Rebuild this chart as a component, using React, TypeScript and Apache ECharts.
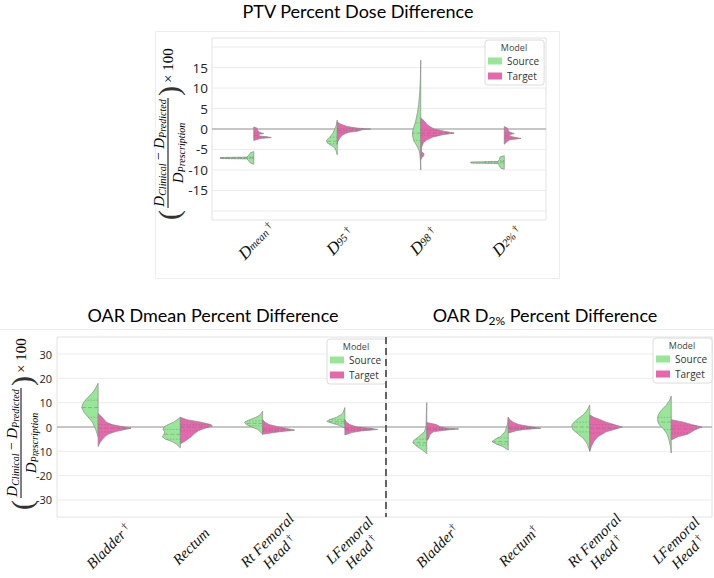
import React, { useEffect, useRef } from "react";
import * as echarts from "echarts";

// ---------- categories & ticks ----------
const ptvCategories = ["D_mean †", "D_95 †", "D_98 †", "D_2% †"];
const oarDmeanCategories = ["Bladder †", "Rectum", "Rt Femoral\nHead †", "LFemoral\nHead †"];
const oarD2Categories = ["Bladder†", "Rectum†", "Rt Femoral\nHead †", "LFemoral\nHead †"];
const modelNames = ["Source", "Target"];

const ptvTickLabels = [-15, -10, -5, 0, 5, 10, 15];
const ptvGridValues = [-20, -15, -10, -5, 0, 5, 10, 15, 20];
const oarTickLabels = [-30, -20, -10, 0, 10, 20, 30];
const oarGridValues = [-30, -20, -10, 0, 10, 20, 30];

// ---------- violin half profiles: [value, half-width as fraction of category band] ----------
const ptvSource = [
  [[-5.5, 0], [-5.8, 0.04], [-6.4, 0.06], [-6.85, 0.08], [-6.95, 0.4], [-7.2, 0.4], [-7.3, 0.08], [-7.8, 0.06], [-8.3, 0.04], [-8.6, 0]],
  [[2.2, 0], [1, 0.01], [0, 0.03], [-1, 0.05], [-2, 0.09], [-2.8, 0.13], [-3.4, 0.12], [-4, 0.07], [-4.6, 0.03], [-5.5, 0.01], [-6.3, 0]],
  [[16.8, 0], [12, 0.005], [9, 0.012], [6, 0.025], [4, 0.04], [2, 0.06], [0, 0.09], [-1, 0.1], [-2, 0.095], [-3, 0.08], [-4, 0.05], [-5, 0.025], [-6, 0.012], [-7.5, 0.005], [-10, 0]],
  [[-6.5, 0], [-6.8, 0.05], [-7.5, 0.06], [-7.95, 0.08], [-8.05, 0.4], [-8.3, 0.4], [-8.4, 0.07], [-9, 0.06], [-9.6, 0.04], [-9.8, 0]],
];
const ptvTarget = [
  [[0.5, 0], [0.2, 0.04], [-0.5, 0.05], [-0.9, 0.08], [-1.1, 0.12], [-1.3, 0.06], [-1.7, 0.07], [-1.9, 0.16], [-2.1, 0.21], [-2.3, 0.08], [-2.6, 0.03], [-2.8, 0]],
  [[1.7, 0], [1.2, 0.04], [0.6, 0.12], [0.2, 0.25], [0, 0.4], [-0.2, 0.3], [-0.5, 0.25], [-0.8, 0.14], [-1.1, 0.1], [-1.5, 0.06], [-2.2, 0.03], [-3, 0.01], [-3.7, 0]],
  [[2.7, 0], [2, 0.04], [1, 0.08], [0, 0.16], [-0.5, 0.27], [-1, 0.4], [-1.4, 0.26], [-2, 0.14], [-2.7, 0.07], [-3.4, 0.03], [-4.5, 0.01], [-5.6, 0.01], [-6, 0.04], [-6.6, 0.035], [-7, 0.01], [-7.5, 0]],
  [[0.6, 0], [0.2, 0.04], [-0.5, 0.05], [-0.9, 0.08], [-1.1, 0.12], [-1.4, 0.06], [-1.8, 0.08], [-2.1, 0.14], [-2.3, 0.2], [-2.6, 0.07], [-3, 0.04], [-3.7, 0]],
];
const oarDmeanSource = [
  [[18, 0], [16, 0.03], [14, 0.07], [12, 0.13], [10, 0.18], [8, 0.2], [6, 0.17], [4, 0.12], [2, 0.07], [0, 0.04], [-2, 0.02], [-4, 0]],
  [[4, 0], [3, 0.04], [2, 0.08], [1, 0.15], [0, 0.2], [-1, 0.21], [-2, 0.19], [-3, 0.2], [-4, 0.22], [-5, 0.18], [-6, 0.1], [-7, 0.05], [-8.6, 0]],
  [[6.5, 0], [5, 0.03], [4, 0.08], [3, 0.16], [2, 0.22], [1, 0.2], [0, 0.13], [-1, 0.06], [-2, 0.03], [-3, 0]],
  [[8, 0], [6, 0.02], [5, 0.05], [4, 0.1], [3, 0.19], [2.3, 0.22], [1.5, 0.15], [0.5, 0.05], [-0.5, 0]],
];
const oarDmeanTarget = [
  [[5.5, 0], [4, 0.05], [2, 0.1], [1, 0.17], [0, 0.32], [-0.5, 0.4], [-1, 0.33], [-2, 0.2], [-3, 0.12], [-4, 0.08], [-6, 0.03], [-8, 0]],
  [[4, 0], [3, 0.08], [2, 0.25], [1, 0.37], [0.4, 0.39], [-0.5, 0.3], [-1.5, 0.22], [-3, 0.16], [-4, 0.13], [-5.5, 0.07], [-7, 0]],
  [[3, 0], [2, 0.03], [1, 0.08], [0, 0.2], [-0.8, 0.32], [-1.3, 0.39], [-2, 0.2], [-2.6, 0.08], [-3, 0]],
  [[3, 0], [2, 0.02], [1, 0.06], [0, 0.15], [-0.5, 0.3], [-1, 0.4], [-1.6, 0.2], [-2.3, 0.08], [-3.3, 0]],
];
const oarD2Source = [
  [[10, 0], [5, 0.005], [0, 0.01], [-2, 0.03], [-4, 0.1], [-5.5, 0.16], [-6.5, 0.17], [-8, 0.12], [-9.5, 0.05], [-11, 0]],
  [[4, 0], [2, 0.005], [0, 0.02], [-2, 0.04], [-4, 0.1], [-5, 0.16], [-6, 0.2], [-7, 0.15], [-8, 0.07], [-9.5, 0]],
  [[9, 0], [7, 0.03], [5, 0.08], [3, 0.16], [1, 0.22], [-1, 0.21], [-3, 0.14], [-5, 0.07], [-7, 0.03], [-10, 0]],
  [[12.7, 0], [11, 0.02], [9, 0.06], [7, 0.12], [5, 0.16], [3, 0.17], [1, 0.15], [-1, 0.09], [-3, 0.05], [-5, 0.03], [-8, 0.01], [-10.7, 0]],
];
const oarD2Target = [
  [[1.8, 0], [1, 0.12], [0, 0.17], [-0.5, 0.25], [-0.8, 0.39], [-1.3, 0.22], [-2, 0.08], [-3, 0.04], [-5, 0.02], [-5.5, 0]],
  [[4, 0], [3, 0.02], [2, 0.06], [1, 0.13], [0, 0.3], [-0.5, 0.4], [-1, 0.2], [-1.5, 0.1], [-2.5, 0]],
  [[5, 0], [4, 0.05], [3, 0.13], [2, 0.2], [1, 0.3], [0, 0.4], [-1, 0.3], [-2, 0.2], [-3, 0.15], [-4, 0.1], [-6, 0.05], [-8, 0.02], [-10, 0]],
  [[3, 0], [2, 0.15], [1, 0.25], [0, 0.38], [-1, 0.3], [-2, 0.25], [-3, 0.2], [-4, 0.08], [-5.3, 0]],
];

// ---------- quartiles [q1, median, q3] per half ----------
const ptvSourceQuartiles = [[-7.2, -7.0, -6.8], [-3.6, -3.0, -2.0], [-2.8, -1.0, 1.5], [-8.3, -8.0, -7.7]];
const ptvTargetQuartiles = [[-2.0, -1.6, -1.0], [-0.8, -0.3, 0.1], [-1.6, -1.0, -0.3], [-2.2, -1.7, -1.0]];
const oarDmeanSourceQuartiles = [[4, 8, 11], [-5, -3, -1], [0.5, 1.5, 2.5], [1.5, 2.2, 3]];
const oarDmeanTargetQuartiles = [[-2, -0.5, 1], [-1.5, 0, 1], [-1.8, -1.2, -0.5], [-1.3, -0.8, -0.2]];
const oarD2SourceQuartiles = [[-7.5, -6.5, -5], [-7, -6, -4.5], [-2, 0, 2], [-1, 2, 4]];
const oarD2TargetQuartiles = [[-1.2, -0.8, -0.2], [-0.8, -0.4, 0], [-2.5, -0.5, 1], [-2.5, -0.8, 0.5]];

const SOURCE_COLOR = "#98E698";
const TARGET_COLOR = "#E667AB";
const serif = '"Liberation Serif", "DejaVu Serif", serif';
const sans = '"Open Sans", "Noto Sans", sans-serif';

function widthAt(prof: number[][], q: number): number {
  for (let k = 0; k < prof.length - 1; k++) {
    const [v1, w1] = prof[k];
    const [v2, w2] = prof[k + 1];
    if ((q <= v1 && q >= v2) || (q >= v1 && q <= v2)) {
      if (v1 === v2) return Math.max(w1, w2);
      return w1 + ((q - v1) / (v2 - v1)) * (w2 - w1);
    }
  }
  return 0;
}

function violinSeries(name: string, color: string, gi: number, profiles: number[][][], quartiles: number[][], side: number) {
  return {
    type: "custom",
    name,
    xAxisIndex: gi,
    yAxisIndex: gi,
    silent: true,
    itemStyle: { color },
    data: profiles.map((_, i) => [i, 0]),
    renderItem: (params: any, api: any) => {
      const i = api.value(0);
      const prof = profiles[i];
      const band = api.size([1, 0])[0];
      const cx = api.coord([i, 0])[0];
      const pts = prof.map(([v, w]) => [cx + side * w * band, api.coord([i, v])[1]]);
      const yTop = pts[0][1];
      const yBot = pts[pts.length - 1][1];
      const poly = [[cx, yTop], ...pts, [cx, yBot]];
      const children: any[] = [
        { type: "polygon", shape: { points: poly }, style: { fill: color, stroke: "#8a8a8a", lineWidth: 0.7 } },
      ];
      quartiles[i].forEach((q, k) => {
        const w = widthAt(prof, q);
        const y = api.coord([i, q])[1];
        children.push({
          type: "line",
          shape: { x1: cx, y1: y, x2: cx + side * w * band, y2: y },
          style: { stroke: "#6a6a6a", lineWidth: 0.7, lineDash: k === 1 ? [4, 2] : [1.5, 1.5], opacity: 0.55 },
        });
      });
      return { type: "group", children };
    },
  };
}

function gridLineSeries(gi: number, values: number[]) {
  return {
    type: "custom",
    name: "grid" + gi,
    xAxisIndex: gi,
    yAxisIndex: gi,
    silent: true,
    data: values.map((v) => [0, v]),
    renderItem: (params: any, api: any) => {
      const cs = params.coordSys;
      const v = api.value(1);
      const y = api.coord([0, v])[1];
      const zero = v === 0;
      return {
        type: "line",
        shape: { x1: cs.x, y1: y, x2: cs.x + cs.width, y2: y },
        style: { stroke: zero ? "#b3b3b3" : "#ececec", lineWidth: zero ? 1.5 : 1 },
      };
    },
  };
}

const ptvFormatter = (v: string) => v.replace(/^D_(\S+) †$/, "{d|D}{s|$1}{g| †}");
const oarFormatter = (v: string) =>
  v
    .split("\n")
    .map((line) => {
      const m = line.match(/^(.*?)(\s?)†$/);
      return m ? `{t|${m[1]}}{g|${m[2]}†}` : `{t|${line}}`;
    })
    .join("\n");

const ptvRich = {
  d: { fontFamily: serif, fontStyle: "italic", fontSize: 17, lineHeight: 17, color: "#111" },
  s: { fontFamily: serif, fontStyle: "italic", fontSize: 11, lineHeight: 17, color: "#111" },
  g: { fontFamily: serif, fontSize: 10, lineHeight: 10, verticalAlign: "top", color: "#111" },
};
const oarRich = {
  t: { fontFamily: serif, fontStyle: "italic", fontSize: 15, lineHeight: 17, color: "#111" },
  g: { fontFamily: serif, fontSize: 10, lineHeight: 10, verticalAlign: "top", color: "#111" },
};

function formula(ox: number, oy: number) {
  const rich = {
    d: { fontFamily: serif, fontStyle: "italic", fontSize: 15, lineHeight: 17, fill: "#000" },
    s: { fontFamily: serif, fontStyle: "italic", fontSize: 10, lineHeight: 10, verticalAlign: "bottom", fill: "#000" },
    m: { fontFamily: serif, fontSize: 14, lineHeight: 17, fill: "#000" },
  };
  return {
    type: "group",
    x: ox,
    y: oy,
    rotation: Math.PI / 2,
    silent: true,
    children: [
      { type: "text", x: 0, y: -1, style: { text: "{d|D}{s|Clinical}{m| − }{d|D}{s|Predicted}", rich, align: "center", verticalAlign: "bottom" } },
      { type: "line", shape: { x1: -55, y1: 0, x2: 55, y2: 0 }, style: { stroke: "#000", lineWidth: 1 } },
      { type: "text", x: 0, y: 1, style: { text: "{d|D}{s|Prescription}", rich, align: "center", verticalAlign: "top" } },
      { type: "text", x: -57, y: 0, style: { text: "(", font: `30px ${serif}`, fill: "#333", align: "right", verticalAlign: "middle" } },
      { type: "text", x: 57, y: 0, style: { text: ")", font: `30px ${serif}`, fill: "#333", align: "left", verticalAlign: "middle" } },
      { type: "text", x: 70, y: 0, style: { text: "× 100", font: `15px ${serif}`, fill: "#000", align: "left", verticalAlign: "middle" } },
    ],
  };
}

function legendBox(left: number, top: number) {
  return {
    data: modelNames,
    orient: "vertical",
    left,
    top,
    icon: "rect",
    itemWidth: 14,
    itemHeight: 7,
    itemGap: 5,
    padding: [16, 5, 4, 3],
    backgroundColor: "#fff",
    borderColor: "#dcdcdc",
    borderWidth: 1,
    borderRadius: 3,
    selectedMode: false,
    textStyle: { fontSize: 10, color: "#333", fontFamily: sans },
  };
}

export default function App() {
  const ref = useRef<HTMLDivElement>(null);
  useEffect(() => {
    if (!ref.current) return;
    const chart = echarts.init(ref.current, undefined, { renderer: "svg" });
    const gridStyle = { show: true, borderColor: "#e2e2e2", borderWidth: 1, backgroundColor: "#fff", containLabel: false, outerBoundsMode: "none" };
    const catAxisBase = {
      type: "category",
      axisLine: { show: false },
      axisTick: { show: false },
      splitLine: { show: false },
    };
    const valAxisBase = {
      type: "value",
      axisLine: { show: false },
      axisTick: { show: false },
      splitLine: { show: false },
    };
    const option: any = {
      animation: false,
      backgroundColor: "#fff",
      grid: [
        { left: 212, top: 38, width: 334, height: 182, ...gridStyle },
        { left: 57, top: 337, width: 329, height: 180, ...gridStyle },
        { left: 386, top: 337, width: 326, height: 180, ...gridStyle },
      ],
      xAxis: [
        {
          ...catAxisBase,
          gridIndex: 0,
          data: ptvCategories,
          axisLabel: { rotate: 45, align: "center", verticalAlign: "middle", margin: 24, padding: [0, 0, 0, 8], formatter: ptvFormatter, rich: ptvRich, interval: 0 },
        },
        {
          ...catAxisBase,
          gridIndex: 1,
          data: oarDmeanCategories,
          axisLabel: { rotate: 45, align: "center", verticalAlign: "middle", margin: 40, padding: [0, 0, 0, 30], formatter: oarFormatter, rich: oarRich, interval: 0 },
        },
        {
          ...catAxisBase,
          gridIndex: 2,
          data: oarD2Categories,
          axisLabel: { rotate: 45, align: "center", verticalAlign: "middle", margin: 40, padding: [0, 0, 0, 30], formatter: oarFormatter, rich: oarRich, interval: 0 },
        },
      ],
      yAxis: [
        { ...valAxisBase, gridIndex: 0, min: -22.2, max: 22.2, axisLabel: { customValues: ptvTickLabels, fontSize: 13.5, color: "#222", margin: 4, fontFamily: sans } },
        { ...valAxisBase, gridIndex: 1, min: -37, max: 37, axisLabel: { customValues: oarTickLabels, fontSize: 11, color: "#222", margin: 5, fontFamily: sans } },
        { ...valAxisBase, gridIndex: 2, min: -37, max: 37, axisLabel: { show: false } },
      ],
      legend: [legendBox(485, 40), legendBox(327, 339), legendBox(653, 338)],
      series: [
        gridLineSeries(0, ptvGridValues),
        gridLineSeries(1, oarGridValues),
        gridLineSeries(2, oarGridValues),
        violinSeries("Source", SOURCE_COLOR, 0, ptvSource, ptvSourceQuartiles, -1),
        violinSeries("Target", TARGET_COLOR, 0, ptvTarget, ptvTargetQuartiles, 1),
        violinSeries("Source", SOURCE_COLOR, 1, oarDmeanSource, oarDmeanSourceQuartiles, -1),
        violinSeries("Target", TARGET_COLOR, 1, oarDmeanTarget, oarDmeanTargetQuartiles, 1),
        violinSeries("Source", SOURCE_COLOR, 2, oarD2Source, oarD2SourceQuartiles, -1),
        violinSeries("Target", TARGET_COLOR, 2, oarD2Target, oarD2TargetQuartiles, 1),
      ],
      graphic: [
        { type: "rect", shape: { x: 155.5, y: 31.5, width: 404, height: 247 }, style: { fill: "none", stroke: "#ededed", lineWidth: 1 }, silent: true, z: -1 },
        { type: "line", shape: { x1: 0, y1: 329.5, x2: 714, y2: 329.5 }, style: { stroke: "#ececec", lineWidth: 1 }, silent: true },
        { type: "text", x: 358, y: 11, style: { text: "PTV Percent Dose Difference", font: `18px Lato, ${sans}`, fill: "#000", align: "center", verticalAlign: "middle" }, silent: true },
        { type: "text", x: 213, y: 315, style: { text: "OAR Dmean Percent Difference", font: `18px Lato, ${sans}`, fill: "#000", align: "center", verticalAlign: "middle" }, silent: true },
        {
          type: "text",
          x: 545,
          y: 315,
          silent: true,
          style: {
            text: "{a|OAR D}{b|2%}{a| Percent Difference}",
            rich: {
              a: { fontFamily: `Lato, ${sans}`, fontSize: 18, lineHeight: 22, fill: "#000" },
              b: { fontFamily: `Lato, ${sans}`, fontSize: 12, lineHeight: 12, verticalAlign: "bottom", fill: "#000" },
            },
            align: "center",
            verticalAlign: "middle",
          },
        },
        formula(168, 153),
        formula(21, 443),
        { type: "line", shape: { x1: 386, y1: 337, x2: 386, y2: 517 }, style: { stroke: "#555", lineWidth: 1.8, lineDash: [7, 4] }, silent: true, z: 50 },
        { type: "text", x: 514, y: 47, z: 100, silent: true, style: { text: "Model", font: `9px ${sans}`, fill: "#444", align: "center", verticalAlign: "middle" } },
        { type: "text", x: 356, y: 346, z: 100, silent: true, style: { text: "Model", font: `9px ${sans}`, fill: "#444", align: "center", verticalAlign: "middle" } },
        { type: "text", x: 682, y: 345, z: 100, silent: true, style: { text: "Model", font: `9px ${sans}`, fill: "#444", align: "center", verticalAlign: "middle" } },
      ],
    };
    chart.setOption(option);
    return () => chart.dispose();
  }, []);
  return <div ref={ref} style={{ position: "absolute", left: 0, top: 0, width: 714, height: 578 }} />;
}
